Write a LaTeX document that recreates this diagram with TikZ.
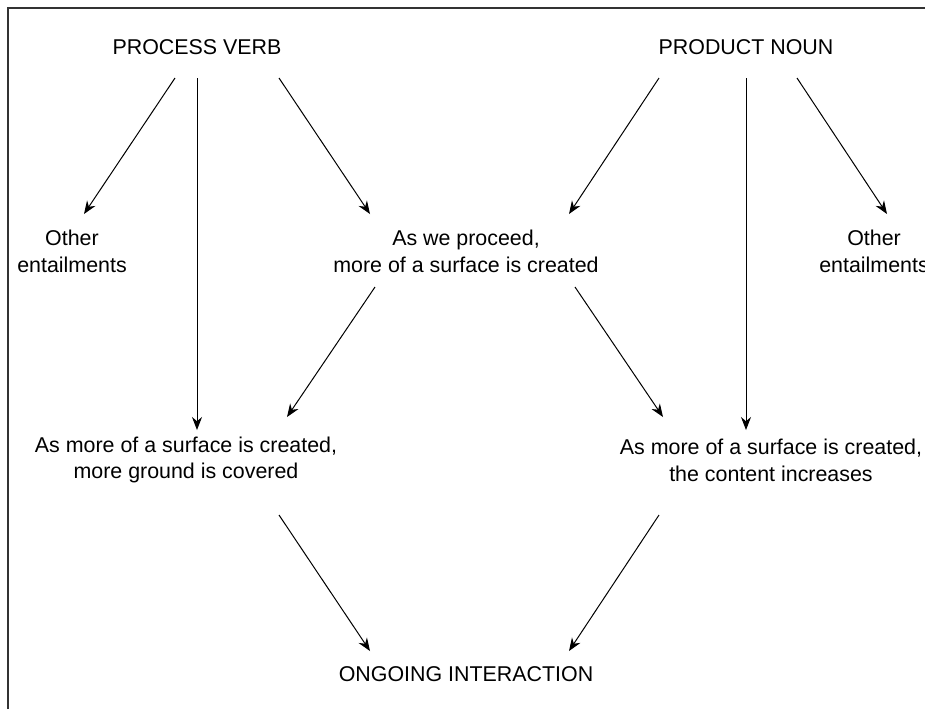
\documentclass[tikz,border=0pt]{standalone}
\usepackage{fontspec}
\setmainfont{Liberation Sans}
\usepackage{tikz}
\usetikzlibrary{arrows.meta, positioning, calc}

\tikzset{
  label/.style={align=center, inner sep=0pt, font=\fontsize{10.7}{13.4}\selectfont},
  link/.style={-{Stealth[length=6.5pt, width=5pt]}, line width=0.5pt},
}

\begin{document}
\begin{tikzpicture}[x=0.5pt, y=-0.5pt]
\useasboundingbox (0,0) rectangle (925,709);
\draw[line width=0.7pt, black!80] (8,709) -- (8,8) -- (925,8);

% top level
\node[label] (pv) at (197,47) {PROCESS VERB};
\node[label] (pn) at (746,47) {PRODUCT NOUN};

% middle level
\node[label] (oel) at (72,251) {Other\\entailments};
\node[label] (wp) at (466,251) {As we proceed,\\more of a surface is created};
\node[label] (oer) at (874,251) {Other\\entailments};

% lower level
\node[label] (gc) at (186,460) {As more of a surface is created,\\more ground is covered};
\node[label] (ci) at (771,460) {As more of a surface is created,\\the content increases};
\node[label] (oi) at (466,674) {ONGOING INTERACTION};

% arrows
\draw[link] ([shift={(-22,31)}]pv.center) -- ([shift={(12,-37)}]oel.center);
\draw[link] ([shift={(0,31)}]pv.center) -- ([shift={(11,-30)}]gc.center);
\draw[link] ([shift={(82,31)}]pv.center) -- ([shift={(-96,-37)}]wp.center);

\draw[link] ([shift={(-87,31)}]pn.center) -- ([shift={(103,-37)}]wp.center);
\draw[link] ([shift={(0,31)}]pn.center) -- ([shift={(-25,-30)}]ci.center);
\draw[link] ([shift={(51,31)}]pn.center) -- ([shift={(13,-37)}]oer.center);

\draw[link] ([shift={(-91,36)}]wp.center) -- ([shift={(101,-43)}]gc.center);
\draw[link] ([shift={(109,36)}]wp.center) -- ([shift={(-108,-43)}]ci.center);

\draw[link] ([shift={(93,55)}]gc.center) -- ([shift={(-96,-23)}]oi.center);
\draw[link] ([shift={(-112,55)}]ci.center) -- ([shift={(103,-23)}]oi.center);
\end{tikzpicture}
\end{document}
